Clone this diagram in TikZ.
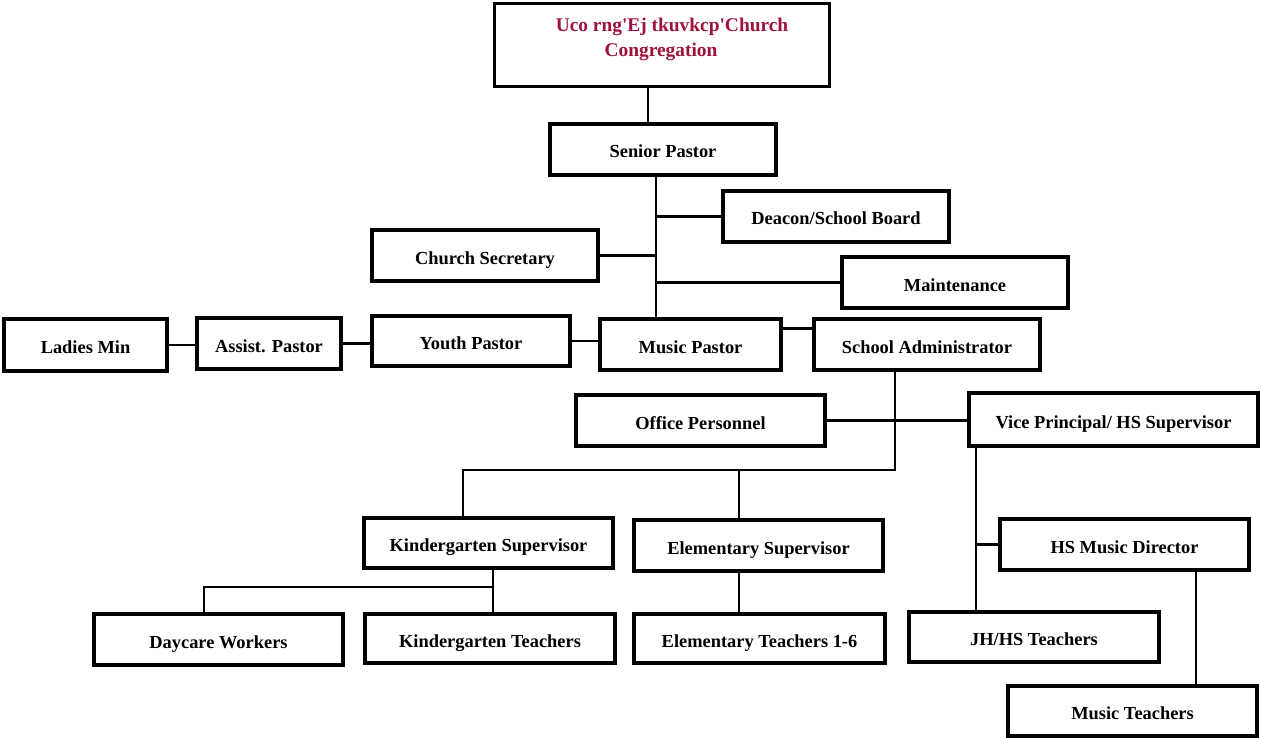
\documentclass[tikz,border=0pt]{standalone}
\usepackage{fontspec}
\setmainfont{Liberation Serif}
\definecolor{titlered}{RGB}{158,18,60}
\tikzset{
  box/.style={draw, line width=3.2pt, rectangle, inner sep=0pt, align=center,
    text height=17pt, text depth=0pt,
    font=\fontsize{18.4}{22}\selectfont\bfseries},
  conn/.style={line width=2.3pt, line cap=butt, line join=miter},
}
\newcommand{\bx}[6]{\node[box, minimum width=#4, minimum height=#5] (#1) at (#2,#3) {#6};}
\begin{document}
\begin{tikzpicture}[x=1pt,y=-1pt]
\useasboundingbox (0,0) rectangle (1261,738);
% boxes
\node[draw, line width=3.2pt, minimum width=335, minimum height=83, inner sep=0pt] (cong) at (662,45) {};
\node[font=\fontsize{19.4}{25}\selectfont\bfseries, text=titlered, align=center] (congtext) at (672,39)
  {Uco rng\textquotesingle Ej tkuvkcp\textquotesingle Church\\Congregation\hspace*{22pt}\null};
\bx{senior}{663}{149.5}{226}{51}{Senior Pastor}
\bx{deacon}{836}{216.5}{226}{51}{Deacon/School Board}
\bx{secretary}{485}{255.5}{226}{51}{Church Secretary}
\bx{maint}{955}{282.5}{226}{51}{Maintenance}
\bx{ladies}{85.5}{345}{163}{52}{Ladies Min}
\bx{assist}{269}{343.5}{144}{51}{Assist. Pastor}
\bx{youth}{471}{341}{198}{50}{Youth Pastor}
\bx{music}{690.5}{344.5}{181}{51}{Music Pastor}
\bx{school}{927}{344.5}{226}{51}{School Administrator}
\bx{office}{700.5}{420.5}{249}{51}{Office Personnel}
\bx{vice}{1113.5}{419.5}{289}{53}{Vice Principal/ HS Supervisor}
\bx{kinsup}{488.5}{543}{249}{50}{Kindergarten Supervisor}
\bx{elemsup}{758.5}{545.5}{249}{51}{Elementary Supervisor}
\bx{hsmusic}{1124.5}{544.5}{249}{51}{HS Music Director}
\bx{daycare}{218.5}{639.5}{249}{51}{Daycare Workers}
\bx{kinteach}{490}{638.5}{250}{49}{Kindergarten Teachers}
\bx{elemteach}{759.5}{638.5}{251}{49}{Elementary Teachers 1-6}
\bx{jhhs}{1034}{637}{250}{50}{JH/HS Teachers}
\bx{musicteach}{1132.5}{711}{249}{50}{Music Teachers}
% helper coordinates
\coordinate (x648) at (648,0);
\coordinate (x656) at (656,0);
\coordinate (sj) at (895,470);
\coordinate (kdrop) at (463,470);
\coordinate (edrop) at (739,470);
\coordinate (x976) at (976,0);
\coordinate (x1196) at (1196,0);
\coordinate (kj) at (493,587);
\coordinate (dj) at (204,587);
% connectors
\draw[conn] (cong.south -| x648) -- (senior.north -| x648);
\draw[conn] (senior.south -| x656) -- (music.north -| x656);
\draw[conn] (deacon.west -| x656) -- (deacon.west);
\draw[conn] (secretary.east) -- (secretary.east -| x656);
\draw[conn] (maint.west -| x656) -- (maint.west);
\draw[conn] (ladies.east) -- (ladies.east -| assist.west);
\draw[conn] (assist.east) -- (assist.east -| youth.west);
\draw[conn] (youth.east) -- (youth.east -| music.west);
\draw[conn] ([yshift=-11pt]music.north east) -- ([yshift=-11pt]music.north east -| school.west);
\draw[conn] (school.south -| sj) -- (sj) -- (kdrop) -- (kinsup.north -| kdrop);
\draw[conn] (edrop) -- (elemsup.north -| edrop);
\draw[conn] (office.east) -- (office.east -| vice.west);
\draw[conn] (vice.south -| x976) -- (jhhs.north -| x976);
\draw[conn] (hsmusic.west -| x976) -- (hsmusic.west);
\draw[conn] (hsmusic.south -| x1196) -- (musicteach.north -| x1196);
\draw[conn] (kinsup.south -| kj) -- (kinteach.north -| kj);
\draw[conn] (kj) -- (dj) -- (daycare.north -| dj);
\draw[conn] (elemsup.south -| edrop) -- (elemteach.north -| edrop);
\end{tikzpicture}
\end{document}
